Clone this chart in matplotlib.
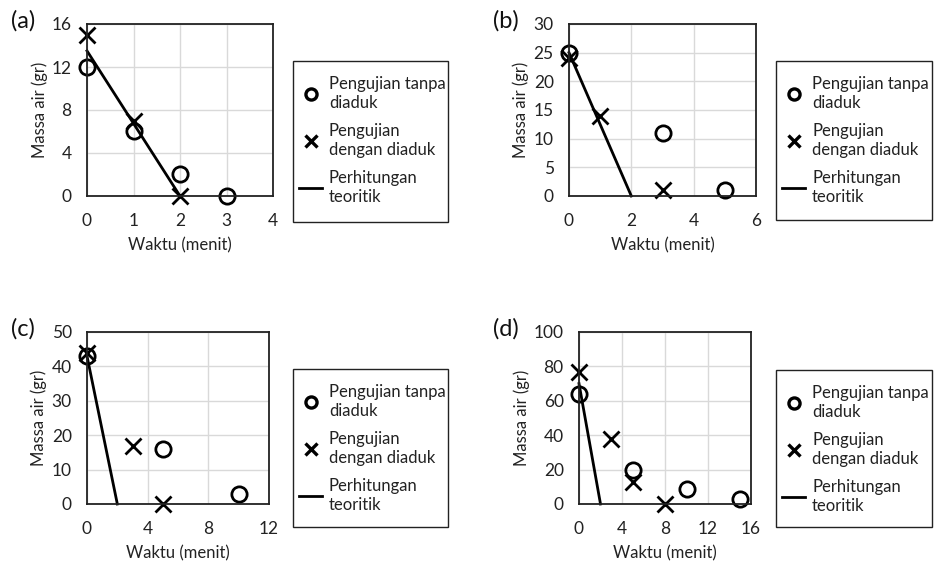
import matplotlib.pyplot as plt
from matplotlib.lines import Line2D
from matplotlib.patches import Rectangle

# data ---------------------------------------------------------------------------------------------------------------

panelLabels = ['(a)', '(b)', '(c)', '(d)']

# pengujian tanpa diaduk (circles)
xTanpa = [[0, 1, 2, 3], [0, 3, 5], [0, 5, 10], [0, 5, 10, 15]]
yTanpa = [[12, 6, 2, 0], [25, 11, 1], [43, 16, 3], [64, 20, 9, 3]]

# pengujian dengan diaduk (crosses)
xDengan = [[0, 1, 2], [0, 1, 3], [0, 3, 5], [0, 3, 5, 8]]
yDengan = [[15, 7, 0], [24, 14, 1], [44, 17, 0], [77, 38, 13, 0]]

# perhitungan teoritik (line)
xTeori = [[0, 2], [0, 2], [0, 2], [0, 2]]
yTeori = [[13.5, 0], [25, 0], [43, 0], [70, 0]]

xMax = [4, 6, 12, 16]
xStep = [1, 2, 4, 4]
yMax = [16, 30, 50, 100]
yStep = [4, 5, 10, 20]

legendLabels = ['Pengujian tanpa\ndiaduk', 'Pengujian\ndengan diaduk', 'Perhitungan\nteoritik']

# figure -------------------------------------------------------------------------------------------------------------

plt.rcParams['font.family'] = ['Lato', 'DejaVu Sans']

figureWidth = 9.35
figureHeight = 5.64
fig = plt.figure(figsize=(figureWidth, figureHeight), dpi=100)
W = 935
H = 564

# panel boxes in pixels: left, top, right, bottom
axesBoxes = [(87, 24, 273, 196), (569, 24, 756, 196), (87, 332, 269, 504), (579, 332, 751, 504)]
legendBoxes = [(293, 61, 448, 222), (776, 61, 932, 220), (293, 369, 448, 527), (776, 370, 932, 527)]
labelPos = [(11, 21), (493, 21), (11, 329), (493, 329)]

markerSize = 11
markerEdge = 2
inkColor = '#222222'

for i in range(4):
    left, top, right, bottom = axesBoxes[i]
    ax = plt.axes([left / W, 1 - bottom / H, (right - left) / W, (bottom - top) / H])

    ax.set_xlim(0, xMax[i])
    ax.set_ylim(0, yMax[i])
    ax.set_xticks(range(0, xMax[i] + 1, xStep[i]))
    ax.set_yticks(range(0, yMax[i] + 1, yStep[i]))
    ax.grid(True, color='#d9d9d9', linewidth=1)
    ax.set_axisbelow(True)
    ax.tick_params(length=0, labelsize=12.5, colors=inkColor)
    ax.tick_params(axis='x', pad=12)
    ax.tick_params(axis='y', pad=11)
    for spine in ax.spines.values():
        spine.set_linewidth(1.3)
        spine.set_color(inkColor)

    ax.plot(xTeori[i], yTeori[i], color='black', linewidth=2, clip_on=False)
    ax.plot(xTanpa[i], yTanpa[i], linestyle='none', marker='o', markersize=markerSize,
            markerfacecolor='none', markeredgecolor='black', markeredgewidth=markerEdge, clip_on=False)
    ax.plot(xDengan[i], yDengan[i], linestyle='none', marker='x', markersize=markerSize,
            color='black', markeredgewidth=markerEdge, clip_on=False)

    ax.set_xlabel('Waktu (menit)', fontsize=12, labelpad=6, color=inkColor)
    ax.set_ylabel('Massa air (gr)', fontsize=12, labelpad=3, color=inkColor)

    fig.text(labelPos[i][0] / W, 1 - labelPos[i][1] / H, panelLabels[i], fontsize=17,
             ha='left', va='center', color='#111111')

    # legend: frame drawn separately so its size matches the reference box
    lLeft, lTop, lRight, lBottom = legendBoxes[i]
    fig.patches.append(Rectangle((lLeft / W, 1 - lBottom / H), (lRight - lLeft) / W, (lBottom - lTop) / H,
                                 transform=fig.transFigure, fill=False, edgecolor=inkColor, linewidth=1))
    handles = [Line2D([], [], linestyle='none', marker='o', markersize=8, markerfacecolor='none',
                      markeredgecolor='black', markeredgewidth=2.4),
               Line2D([], [], linestyle='none', marker='x', markersize=8, color='black', markeredgewidth=2.4),
               Line2D([], [], color='black', linewidth=2)]
    leg = fig.legend(handles, legendLabels, loc='upper left',
                     bbox_to_anchor=((lLeft + 6) / W, 1 - (lTop + 15) / H), bbox_transform=fig.transFigure,
                     fontsize=12, frameon=False, handlelength=1.4, handletextpad=0.4,
                     labelspacing=0.7, borderpad=0, borderaxespad=0)
    for txt in leg.get_texts():
        txt.set_linespacing(1.25)
        txt.set_color(inkColor)

plt.savefig('out.png', dpi=100)
